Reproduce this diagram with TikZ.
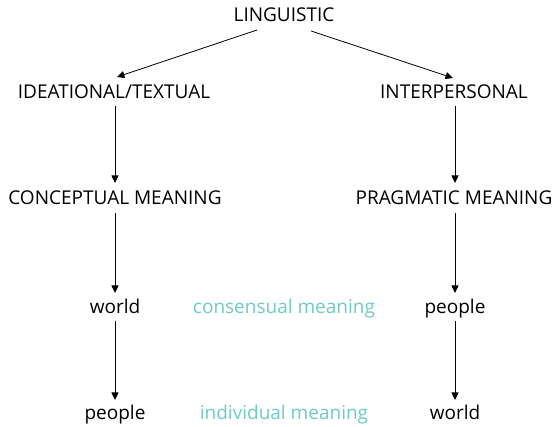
\documentclass[tikz,border=0pt]{standalone}
\usepackage{fontspec}
\setmainfont{Open Sans}
\usetikzlibrary{arrows.meta}
\definecolor{teal1}{RGB}{110,203,197}
\begin{document}
\begin{tikzpicture}[x=1pt,y=-1pt,
  lbl/.style={font=\fontsize{19}{22}\selectfont, inner sep=0pt, anchor=base, text=black},
  tl/.style={lbl, text=teal1},
  arr/.style={draw=black, line width=0.8pt, -{Triangle[length=7.5pt,width=7pt]}}]
\useasboundingbox (0,0) rectangle (555,427);
\node[lbl] (ling) at (284,22) {LINGUISTIC};
\node[lbl] (idea) at (114,99) {IDEATIONAL/TEXTUAL};
\node[lbl] (inter) at (454,99) {INTERPERSONAL};
\node[lbl] (conc) at (115,205) {CONCEPTUAL MEANING};
\node[lbl] (prag) at (454,205) {PRAGMATIC MEANING};
\node[lbl] (w1) at (115,314) {world};
\node[tl] (cons) at (284,314) {consensual meaning};
\node[lbl] (p2) at (455,314) {people};
\node[lbl] (p1) at (115,420) {people};
\node[tl] (indiv) at (284,420) {individual meaning};
\node[lbl] (w2) at (455,420) {world};
\draw[arr] ([xshift=-27pt,yshift=-8pt]ling.base) -- ([xshift=3pt,yshift=22pt]idea.base);
\draw[arr] ([xshift=27pt,yshift=-9pt]ling.base) -- ([xshift=-1pt,yshift=21pt]inter.base);
\draw[arr] ([xshift=1pt,yshift=-7pt]idea.base) -- ([yshift=22pt]conc.base);
\draw[arr] ([yshift=-8pt]conc.base) -- ([yshift=21pt]w1.base);
\draw[arr] ([yshift=-7pt]w1.base) -- ([yshift=20pt]p1.base);
\draw[arr] ([xshift=1pt,yshift=-7pt]inter.base) -- ([xshift=1pt,yshift=22pt]prag.base);
\draw[arr] ([xshift=1pt,yshift=-8pt]prag.base) -- ([yshift=21pt]p2.base);
\draw[arr] ([yshift=-7pt]p2.base) -- ([yshift=20pt]w2.base);
\end{tikzpicture}
\end{document}
